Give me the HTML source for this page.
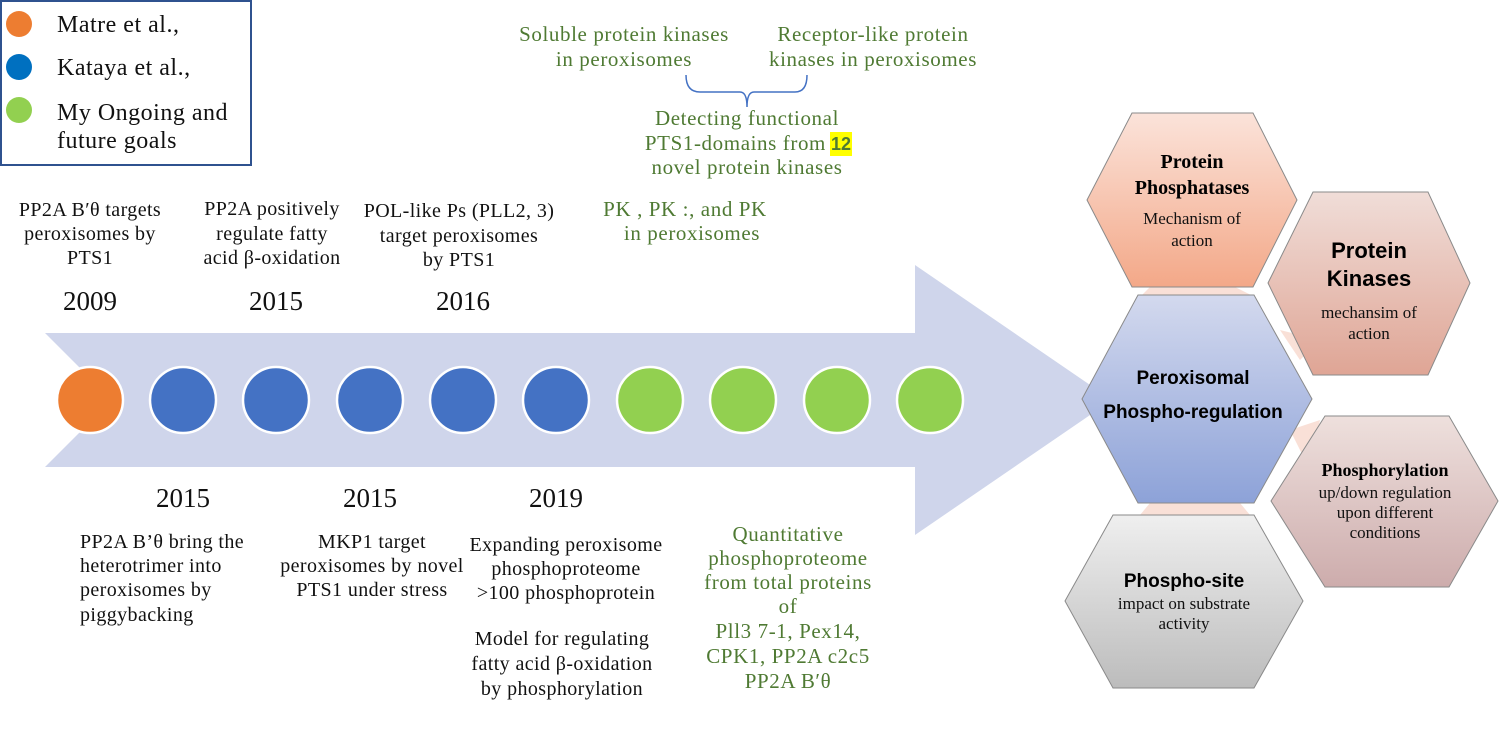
<!DOCTYPE html>
<html><head><meta charset="utf-8"><style>
html,body{margin:0;padding:0;background:#fff}
svg{display:block}
text{font-family:"Liberation Serif",serif}
.t{font-size:20px;letter-spacing:0.4px;fill:#111;text-anchor:middle}
.y{font-size:27px;fill:#111;text-anchor:middle}
.g{font-size:21px;letter-spacing:0.6px;fill:#4f7a33;text-anchor:middle}
.l{font-size:24px;letter-spacing:0.5px;fill:#111}
.hb{font-weight:bold;text-anchor:middle;fill:#000}
.hs{text-anchor:middle;fill:#111}
</style></head><body>
<svg width="1500" height="734" viewBox="0 0 1500 734" xmlns="http://www.w3.org/2000/svg">
<defs>
<linearGradient id="g1" x1="0" y1="0" x2="0" y2="1"><stop offset="0" stop-color="#fbe3da"/><stop offset="1" stop-color="#f3a888"/></linearGradient>
<linearGradient id="g2" x1="0" y1="0" x2="0" y2="1"><stop offset="0" stop-color="#f0ddd8"/><stop offset="1" stop-color="#dfa595"/></linearGradient>
<linearGradient id="g3" x1="0" y1="0" x2="0" y2="1"><stop offset="0" stop-color="#d3d9ee"/><stop offset="1" stop-color="#8da2d8"/></linearGradient>
<linearGradient id="g4" x1="0" y1="0" x2="0" y2="1"><stop offset="0" stop-color="#eee0dd"/><stop offset="1" stop-color="#cdacac"/></linearGradient>
<linearGradient id="g5" x1="0" y1="0" x2="0" y2="1"><stop offset="0" stop-color="#efefef"/><stop offset="1" stop-color="#bcbcbc"/></linearGradient>
</defs>
<rect x="1" y="1" width="250" height="164" fill="#fff" stroke="#2f528f" stroke-width="2"/>
<circle cx="19" cy="24" r="13" fill="#ed7d31"/>
<circle cx="19" cy="67" r="13" fill="#0070c0"/>
<circle cx="19" cy="110" r="13" fill="#92d050"/>
<text class="l" x="57" y="32">Matre et al.,</text>
<text class="l" x="57" y="75">Kataya et al.,</text>
<text class="l" x="57" y="120">My Ongoing and</text>
<text class="l" x="57" y="148">future goals</text>
<polygon points="45,333 915,333 915,265 1112,400 915,535 915,467 45,467 112,400" fill="#cfd5eb"/>
<g stroke="#fff" stroke-width="2.5">
<circle cx="90" cy="400" r="33" fill="#ed7d31"/>
<circle cx="183" cy="400" r="33" fill="#4472c4"/>
<circle cx="276" cy="400" r="33" fill="#4472c4"/>
<circle cx="370" cy="400" r="33" fill="#4472c4"/>
<circle cx="463" cy="400" r="33" fill="#4472c4"/>
<circle cx="556" cy="400" r="33" fill="#4472c4"/>
<circle cx="650" cy="400" r="33" fill="#92d050"/>
<circle cx="743" cy="400" r="33" fill="#92d050"/>
<circle cx="837" cy="400" r="33" fill="#92d050"/>
<circle cx="930" cy="400" r="33" fill="#92d050"/>
</g>
<text class="t" x="90" y="216">PP2A B′θ targets</text>
<text class="t" x="90" y="240">peroxisomes by</text>
<text class="t" x="90" y="264">PTS1</text>
<text class="y" x="90" y="310">2009</text>
<text class="t" x="272" y="215">PP2A positively</text>
<text class="t" x="272" y="240">regulate fatty</text>
<text class="t" x="272" y="264">acid β-oxidation</text>
<text class="y" x="276" y="310">2015</text>
<text class="t" x="459" y="217">POL-like Ps (PLL2, 3)</text>
<text class="t" x="459" y="242">target peroxisomes</text>
<text class="t" x="459" y="266">by PTS1</text>
<text class="y" x="463" y="310">2016</text>
<text class="g" x="685" y="216">PK  , PK :, and PK</text>
<text class="g" x="692" y="240">in peroxisomes</text>
<text class="g" x="624" y="41">Soluble protein kinases</text>
<text class="g" x="624" y="66">in peroxisomes</text>
<text class="g" x="873" y="41">Receptor-like protein</text>
<text class="g" x="873" y="66">kinases in peroxisomes</text>
<path d="M686,75 Q686,92 700,92 L740,92 Q747,92 747,107 Q747,92 754,92 L795,92 Q807,92 807,75" fill="none" stroke="#4472c4" stroke-width="1.5"/>
<text class="g" x="747" y="125">Detecting functional</text>
<text class="g" x="826" y="150" style="text-anchor:end">PTS1-domains from</text>
<rect x="830" y="132" width="22" height="24" fill="#ffff00"/>
<text x="841" y="150" style="font-family:'Liberation Sans',sans-serif;font-size:18px;font-weight:bold;fill:#4f7a33;text-anchor:middle">12</text>
<text class="g" x="747" y="174">novel protein kinases</text>
<text class="y" x="183" y="507">2015</text>
<text class="t" x="80" y="548" style="text-anchor:start">PP2A B’θ bring the</text>
<text class="t" x="80" y="572" style="text-anchor:start">heterotrimer into</text>
<text class="t" x="80" y="596" style="text-anchor:start">peroxisomes by</text>
<text class="t" x="80" y="621" style="text-anchor:start">piggybacking</text>
<text class="y" x="370" y="507">2015</text>
<text class="t" x="372" y="548">MKP1 target</text>
<text class="t" x="372" y="572">peroxisomes by novel</text>
<text class="t" x="372" y="596">PTS1 under stress</text>
<text class="y" x="556" y="507">2019</text>
<text class="t" x="566" y="551">Expanding peroxisome</text>
<text class="t" x="566" y="575">phosphoproteome</text>
<text class="t" x="566" y="599">&gt;100 phosphoprotein</text>
<text class="t" x="562" y="645">Model for regulating</text>
<text class="t" x="562" y="670">fatty acid β-oxidation</text>
<text class="t" x="562" y="695">by phosphorylation</text>
<text class="g" x="788" y="541">Quantitative</text>
<text class="g" x="788" y="565">phosphoproteome</text>
<text class="g" x="788" y="589">from total proteins</text>
<text class="g" x="788" y="613">of</text>
<text class="g" x="788" y="638">Pll3 7-1, Pex14,</text>
<text class="g" x="788" y="663">CPK1, PP2A c2c5</text>
<text class="g" x="788" y="688">PP2A B′θ</text>
<g fill="#f6d3c6" opacity="0.7">
<polygon points="1150,287 1235,287 1255,297 1140,297"/>
<polygon points="1280,330 1320,340 1300,360"/>
<polygon points="1290,430 1320,420 1310,470"/>
<polygon points="1150,503 1240,503 1250,515 1140,515"/>
</g>
<g stroke="#8a8a8a" stroke-width="1">
<polygon points="1132,113 1253,113 1297,200 1253,287 1132,287 1087,200" fill="url(#g1)"/>
<polygon points="1313,192 1428,192 1470,283 1428,375 1313,375 1268,283" fill="url(#g2)"/>
<polygon points="1325,416 1449,416 1498,501 1449,587 1325,587 1271,501" fill="url(#g4)"/>
<polygon points="1113,515 1254,515 1303,601 1254,688 1113,688 1065,601" fill="url(#g5)"/>
<polygon points="1138,295 1254,295 1312,399 1254,503 1138,503 1082,399" fill="url(#g3)"/>
</g>
<text class="hb" x="1192" y="168" font-size="20">Protein</text>
<text class="hb" x="1192" y="194" font-size="20">Phosphatases</text>
<text class="hs" x="1192" y="224" font-size="17">Mechanism of</text>
<text class="hs" x="1192" y="246" font-size="17">action</text>
<text class="hb" x="1369" y="258" font-size="22" style="font-family:'Liberation Sans',sans-serif">Protein</text>
<text class="hb" x="1369" y="286" font-size="22" style="font-family:'Liberation Sans',sans-serif">Kinases</text>
<text class="hs" x="1369" y="318" font-size="17">mechansim of</text>
<text class="hs" x="1369" y="339" font-size="17">action</text>
<text class="hb" x="1193" y="384" font-size="19" style="font-family:'Liberation Sans',sans-serif">Peroxisomal</text>
<text class="hb" x="1193" y="418" font-size="19" style="font-family:'Liberation Sans',sans-serif">Phospho-regulation</text>
<text class="hb" x="1385" y="476" font-size="18">Phosphorylation</text>
<text class="hs" x="1385" y="498" font-size="17">up/down regulation</text>
<text class="hs" x="1385" y="518" font-size="17">upon different</text>
<text class="hs" x="1385" y="538" font-size="17">conditions</text>
<text class="hb" x="1184" y="587" font-size="19" style="font-family:'Liberation Sans',sans-serif">Phospho-site</text>
<text class="hs" x="1184" y="609" font-size="17">impact on substrate</text>
<text class="hs" x="1184" y="629" font-size="17">activity</text>
</svg>
</body></html>
